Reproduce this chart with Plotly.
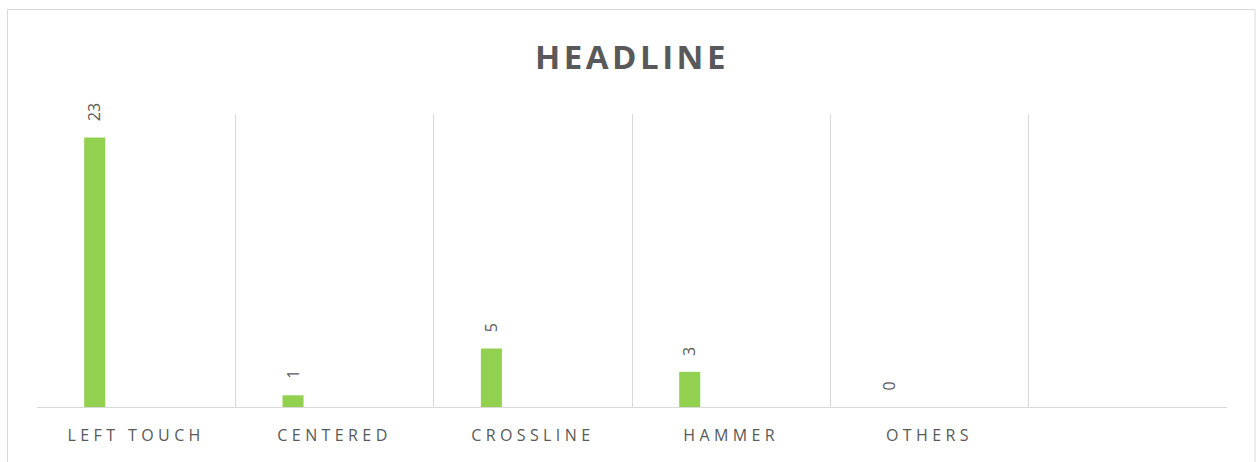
import plotly.graph_objects as go

categories = ["LEFT TOUCH", "CENTERED", "CROSSLINE", "HAMMER", "OTHERS", ""]
values = [23, 1, 5, 3, 0]
title_text = "HEADLINE"

BAR_COLOR = "#92D050"
TEXT_COLOR = "#595959"
GRID_COLOR = "#D9D9D9"
BAR_OFFSET = -0.262
BAR_WIDTH = 0.106

positions = list(range(len(categories)))
bar_x = positions[:len(values)]

fig = go.Figure()
fig.add_trace(go.Bar(
    x=bar_x,
    y=values,
    offset=BAR_OFFSET,
    width=BAR_WIDTH,
    marker=dict(color=BAR_COLOR, line=dict(width=0)),
    hoverinfo="x+y",
))

for xv, v in zip(bar_x, values):
    fig.add_annotation(
        x=xv + BAR_OFFSET + BAR_WIDTH / 2, y=v, xref="x", yref="y",
        text=str(v), showarrow=False, textangle=-90,
        xanchor="center", yanchor="bottom", yshift=14,
        font=dict(family="Open Sans", size=16, color=TEXT_COLOR),
    )

boundaries = [p - 0.5 for p in positions] + [positions[-1] + 0.5]

fig.update_layout(
    width=1256, height=462,
    margin=dict(l=37, r=29, t=114, b=55),
    paper_bgcolor="white", plot_bgcolor="white",
    showlegend=False,
    title=dict(
        text="<b>" + title_text + "</b>",
        x=0.5, xanchor="center", xref="paper",
        y=1 - 57 / 462, yanchor="middle", yref="container",
        font=dict(family="Open Sans", size=33, color=TEXT_COLOR),
    ),
    xaxis=dict(
        range=[positions[0] - 0.5, positions[-1] + 0.5],
        tickmode="array", tickvals=positions, ticktext=categories,
        showgrid=False, zeroline=False,
        showline=True, linecolor=GRID_COLOR, linewidth=1,
        ticks="", ticklabelstandoff=14,
        tickfont=dict(family="Open Sans", size=16, color=TEXT_COLOR),
        minor=dict(tickmode="array", tickvals=boundaries, showgrid=True,
                   gridcolor=GRID_COLOR, gridwidth=1, ticks=""),
        fixedrange=True,
    ),
    yaxis=dict(range=[0, 25], visible=False, showgrid=False, zeroline=False, fixedrange=True),
    shapes=[dict(
        type="rect", xref="paper", yref="paper",
        x0=(7.5 - 37) / 1190, x1=(1255 - 37) / 1190,
        y0=-0.25, y1=(407 - 9.5) / 293,
        line=dict(color=GRID_COLOR, width=1), fillcolor="rgba(0,0,0,0)", layer="below",
    )],
)

post = """
document.body.style.margin = '0';
document.body.style.overflow = 'hidden';
var gd = document.getElementById('{plot_id}');
function spacing(){
  gd.querySelectorAll('.xtick text').forEach(function(t){ t.style.letterSpacing = '4.4px'; });
  gd.querySelectorAll('.gtitle').forEach(function(t){ t.style.letterSpacing = '3.5px'; });
}
spacing();
gd.on('plotly_afterplot', spacing);
"""

fig.write_html("out.html", post_script=post, config={"displayModeBar": False})
